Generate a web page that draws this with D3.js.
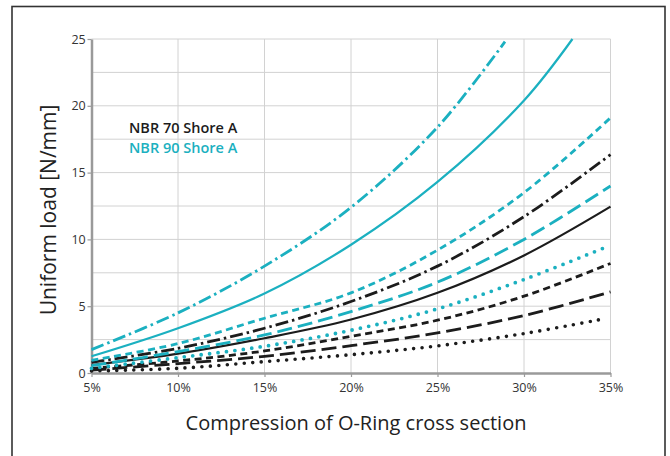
<!DOCTYPE html>
<html><head><meta charset="utf-8">
<script src="https://cdn.jsdelivr.net/npm/d3@7"></script>
<style>
html,body{margin:0;padding:0;background:#fff;}
svg{display:block;font-family:"Open Sans","Noto Sans",sans-serif;}
</style></head>
<body>
<svg id="chart" width="670" height="456"></svg>
<script>
// ---- data ----
const xFull = [5, 10, 15, 20, 25, 30, 35];
const xTealDashDot = [5, 10, 15, 20, 25, 28.9];
const xTealSolid = [5, 10, 15, 20, 25, 30, 32.8];
const xDotted = [5, 10, 15, 20, 25, 30, 34.6];

const tealDashDot   = [1.75, 4.5, 8.0, 12.4, 18.4, 24.8];
const tealSolid     = [1.25, 3.35, 5.95, 9.6, 14.3, 20.4, 25.0];
const tealShortDash = [0.95, 2.2, 4.1, 6.0, 9.2, 13.5, 19.1];
const tealLongDash  = [0.55, 1.6, 2.85, 4.6, 6.8, 10.0, 14.0];
const tealDotted    = [0.35, 1.15, 2.0, 3.2, 4.8, 7.0, 9.35];
const blackDashDot  = [0.8, 1.85, 3.35, 5.35, 8.0, 11.7, 16.35];
const blackSolid    = [0.6, 1.45, 2.6, 4.0, 6.0, 8.8, 12.45];
const blackShortDash= [0.35, 0.9, 1.65, 2.75, 3.95, 5.75, 8.2];
const blackLongDash = [0.22, 0.7, 1.25, 2.05, 3.0, 4.3, 6.07];
const blackDotted   = [0.15, 0.35, 0.85, 1.37, 2.03, 2.95, 4.05];

const xTickLabels = ["5%", "10%", "15%", "20%", "25%", "30%", "35%"];
const yTickValues = [0, 5, 10, 15, 20, 25];
const legendLabels = ["NBR 70 Shore A", "NBR 90 Shore A"];

// ---- styles ----
const TEAL = "#1bb0c0", BLACK = "#1c1c1c";
const series = [
  {x: xDotted, y: blackDotted,  color: BLACK, dash: "0,8.5", w: 3.6, cap: "round"},
  {x: xFull, y: blackLongDash,  color: BLACK, dash: "15,6", w: 2.8},
  {x: xFull, y: blackShortDash, color: BLACK, dash: "7,4.5", w: 2.8},
  {x: xFull, y: blackSolid,     color: BLACK, dash: null, w: 2.2},
  {x: xFull, y: blackDashDot,   color: BLACK, dash: "13,4,2.5,4", w: 2.8},
  {x: xDotted, y: tealDotted,   color: TEAL, dash: "0,8.5", w: 3.8, cap: "round"},
  {x: xFull, y: tealLongDash,   color: TEAL, dash: "15,6", w: 2.8},
  {x: xFull, y: tealShortDash,  color: TEAL, dash: "7,4.5", w: 2.8},
  {x: xTealSolid, y: tealSolid, color: TEAL, dash: null, w: 2.2},
  {x: xTealDashDot, y: tealDashDot, color: TEAL, dash: "13,4,2.5,4", w: 2.8}
];

const svg = d3.select("#chart");
// outer frame
svg.append("rect").attr("x", 12).attr("y", 6.5).attr("width", 653).attr("height", 460)
  .attr("fill", "none").attr("stroke", "#333").attr("stroke-width", 1.6);

const x = d3.scaleLinear().domain([5, 35]).range([91.5, 610.5]);
const y = d3.scaleLinear().domain([0, 25]).range([373, 39]);

// grid
const grid = svg.append("g");
grid.selectAll("line.h").data(d3.range(2.5, 25.01, 2.5)).join("line")
  .attr("x1", x(5)).attr("x2", x(35)).attr("y1", d => y(d)).attr("y2", d => y(d))
  .attr("stroke", "#d2d2d2").attr("stroke-width", 1);
grid.selectAll("line.v").data(xFull.slice(1)).join("line")
  .attr("y1", y(0)).attr("y2", y(25)).attr("x1", d => x(d)).attr("x2", d => x(d))
  .attr("stroke", "#d2d2d2").attr("stroke-width", 1);

// axes
const xAxis = svg.append("g").attr("transform", `translate(0,${y(0)})`)
  .call(d3.axisBottom(x).tickValues(xFull).tickFormat((d, i) => xTickLabels[i]).tickSize(4).tickSizeOuter(0));
const yAxis = svg.append("g").attr("transform", `translate(${x(5)},0)`)
  .call(d3.axisLeft(y).tickValues(yTickValues).tickSize(4).tickSizeOuter(0));
[xAxis, yAxis].forEach(a => {
  a.select(".domain").attr("stroke", "#9a9a9a").attr("stroke-width", 2.5);
  a.selectAll(".tick line").attr("stroke", "#9a9a9a").attr("stroke-width", 1.2);
  a.selectAll("text").attr("fill", "#333").attr("font-size", 12.5)
    .attr("font-family", "'Open Sans','Noto Sans',sans-serif");
});
xAxis.selectAll("text").attr("dy", "0.95em");
yAxis.selectAll("text").attr("dx", "0.1em");

// lines
const line = d3.line().curve(d3.curveCatmullRom.alpha(0.5));
svg.append("g").selectAll("path").data(series).join("path")
  .attr("d", s => line(s.y.map((v, i) => [x(s.x[i]), y(v)])))
  .attr("fill", "none").attr("stroke", s => s.color).attr("stroke-width", s => s.w)
  .attr("stroke-dasharray", s => s.dash).attr("stroke-linecap", s => s.cap || "butt");

// legend
svg.append("text").attr("x", 129).attr("y", 133).text(legendLabels[0])
  .attr("font-size", 14.5).attr("font-weight", 600).attr("fill", BLACK);
svg.append("text").attr("x", 129).attr("y", 153).text(legendLabels[1])
  .attr("font-size", 14.5).attr("font-weight", 600).attr("fill", TEAL);

// titles
svg.append("text").attr("transform", "translate(56,210) rotate(-90)").attr("text-anchor", "middle")
  .attr("font-size", 21).attr("fill", "#222").text("Uniform load [N/mm]");
svg.append("text").attr("x", 356).attr("y", 430).attr("text-anchor", "middle")
  .attr("font-size", 20).attr("fill", "#222").text("Compression of O-Ring cross section");
</script>
</body></html>
